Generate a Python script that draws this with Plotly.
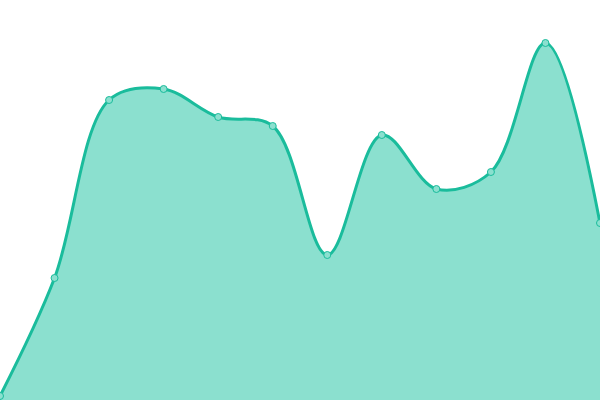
import plotly.graph_objects as go

# values (canvas height = 400)
x_idx = list(range(12))
values = [4, 122, 300, 311, 283, 274, 145, 265, 211, 228, 357, 177]

fig = go.Figure()
fig.add_trace(go.Scatter(
    x=x_idx, y=values,
    mode="lines+markers",
    line=dict(color="#1abc9c", width=3, shape="spline", smoothing=1),
    marker=dict(size=7, color="#8be0cf", line=dict(color="#1abc9c", width=1)),
    fill="tozeroy", fillcolor="#8be0cf",
    cliponaxis=False,
))

fig.update_layout(
    width=600, height=400,
    margin=dict(l=0, r=0, t=0, b=0),
    paper_bgcolor="white", plot_bgcolor="white",
    showlegend=False,
    xaxis=dict(range=[0, 11], visible=False, fixedrange=True),
    yaxis=dict(range=[0, 400], visible=False, fixedrange=True),
)

# drop the default page margin so the chart fills the window
fig.write_html("out.html", config={"displayModeBar": False},
               post_script="document.body.style.margin='0';document.body.style.overflow='hidden';")
